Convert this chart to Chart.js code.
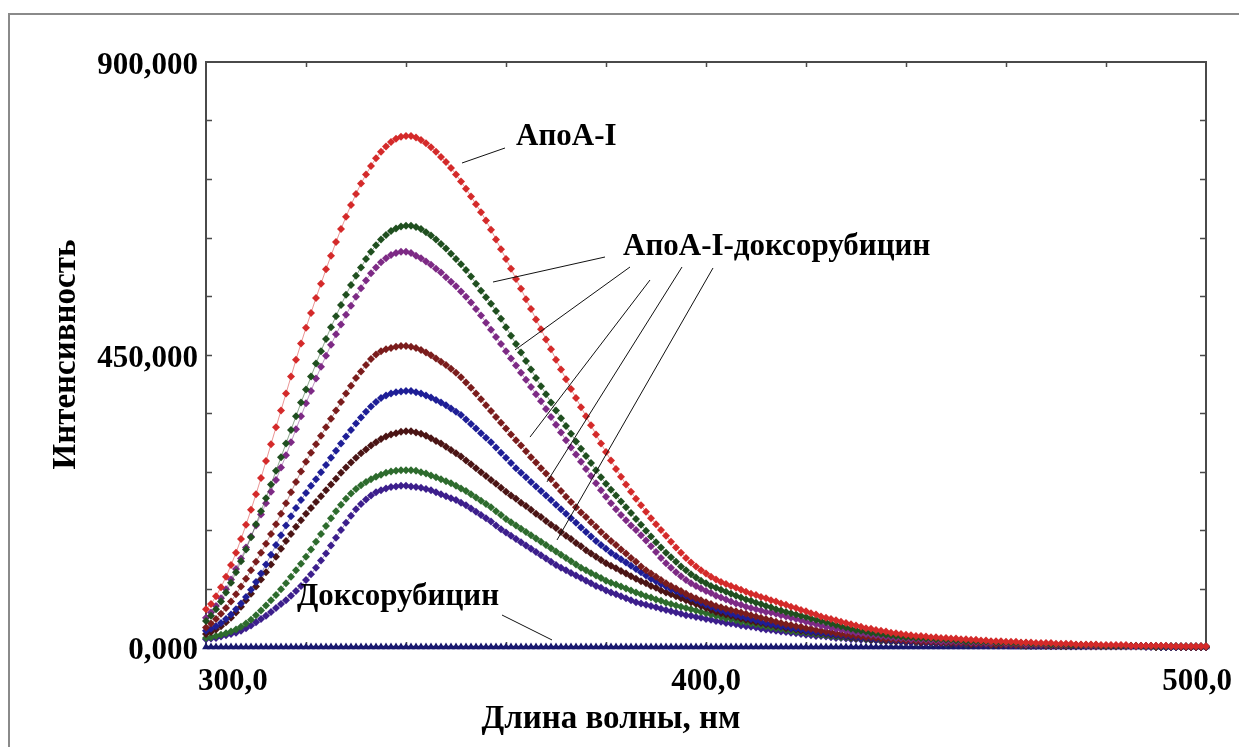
<!DOCTYPE html>
<html lang="ru">
<head>
    <meta charset="UTF-8">
    <title>Спектры флуоресценции</title>
    <style>
        body {
            margin: 0;
            padding: 0;
            background: #fff;
        }
        canvas {
            display: block;
        }
    </style>
</head>
<body>
    <canvas id="spectra" width="1239" height="747"></canvas>
    <script src="https://cdn.jsdelivr.net/npm/chart.js"></script>
    <script>
        // wavelength grid, nm
        const wavelengths = [
            300,301,302,303,304,305,306,307,308,309,310,311,312,313,314,315,316,317,318,319,
            320,321,322,323,324,325,326,327,328,329,330,331,332,333,334,335,336,337,338,339,
            340,341,342,343,344,345,346,347,348,349,350,351,352,353,354,355,356,357,358,359,
            360,361,362,363,364,365,366,367,368,369,370,371,372,373,374,375,376,377,378,379,
            380,381,382,383,384,385,386,387,388,389,390,391,392,393,394,395,396,397,398,399,
            400,401,402,403,404,405,406,407,408,409,410,411,412,413,414,415,416,417,418,419,
            420,421,422,423,424,425,426,427,428,429,430,431,432,433,434,435,436,437,438,439,
            440,441,442,443,444,445,446,447,448,449,450,451,452,453,454,455,456,457,458,459,
            460,461,462,463,464,465,466,467,468,469,470,471,472,473,474,475,476,477,478,479,
            480,481,482,483,484,485,486,487,488,489,490,491,492,493,494,495,496,497,498,499,
            500
        ];

        // intensity, one value per nm (300..500)
        const apoA1 = [
            58,66,78,92,108,126,145,166,188,211, 235,260,286,312,338,364,390,416,442,467,
            491,514,537,559,581,602,623,643,662,680, 697,713,727,740,752,762,770,777,782,785,
            786,786,784,780,775,769,762,754,746,737, 727,716,705,693,681,669,656,642,627,612,
            597,582,566,551,535,520,504,489,473,458, 442,427,412,397,383,369,355,341,327,313,
            300,287,274,262,250,239,228,218,208,198, 189,180,171,162,153,145,137,130,124,118,
            113,108,104,100,97,94,91,88,85,82, 80,77,75,72,70,67,65,62,60,57,
            55,52,50,47,45,43,41,39,37,35, 33,31,29,28,26,25,24,22,21,20,
            19,18,17,17,16,15,15,14,14,13, 13,12,12,11,11,10,10,9,9,9,
            8,8,8,7,7,7,6,6,6,6, 5,5,5,5,4,4,4,4,4,3,
            3,3,3,3,3,2,2,2,2,2, 2,2,2,1,1,1,1,1,1,1,
            1
        ];
        const complex1 = [
            40,48,58,70,84,99,115,132,150,169, 189,209,229,250,271,292,313,334,355,376,
            396,416,436,455,474,492,509,526,542,557, 571,584,597,608,618,627,634,640,644,647,
            648,648,646,643,638,633,627,620,613,605, 597,589,580,570,559,548,538,528,517,505,
            492,479,466,453,440,427,414,401,389,376, 364,352,340,328,316,305,294,283,272,261,
            251,242,233,224,215,206,197,188,179,170, 161,153,145,138,131,124,118,112,107,102,
            98,94,91,88,85,82,79,76,73,71, 68,66,63,61,58,56,54,52,50,48,
            46,44,42,40,38,36,34,32,30,28, 26,25,24,22,21,20,19,18,17,16,
            15,15,14,14,13,13,12,12,11,11, 10,10,9,9,9,8,8,8,7,7,
            7,6,6,6,6,5,5,5,5,4, 4,4,4,3,3,3,3,3,3,2,
            2,2,2,2,2,2,2,1,1,1, 1,1,1,1,1,1,1,1,1,1,
            1
        ];
        const complex2 = [
            45,53,63,75,89,104,120,136,153,170, 187,204,221,239,257,276,295,315,335,355,
            375,394,413,431,448,465,481,496,511,525, 539,552,564,575,584,592,598,603,606,608,
            608,606,602,598,593,588,582,576,569,562, 555,547,539,530,520,510,499,488,477,466,
            455,444,433,422,411,400,389,378,366,354, 342,330,318,307,296,285,274,263,252,241,
            231,221,212,203,195,187,180,172,164,155, 146,137,129,122,115,109,103,98,94,90,
            86,83,79,76,73,70,67,65,62,60, 58,56,54,53,51,49,47,45,43,41,
            39,37,35,33,31,30,28,27,25,24, 22,21,20,19,18,17,16,15,14,14,
            13,12,12,11,11,10,10,9,9,9, 8,8,8,7,7,7,6,6,6,6,
            5,5,5,5,4,4,4,4,4,3, 3,3,3,3,3,3,2,2,2,2,
            2,2,2,2,1,1,1,1,1,1, 1,1,1,1,1,1,1,1,1,1,
            1
        ];
        const complex3 = [
            30,36,43,51,60,70,81,93,105,118, 131,145,159,174,189,205,221,238,254,270,
            285,299,312,325,338,351,364,377,390,402, 414,424,434,443,450,455,458,460,462,463,
            463,462,460,457,453,449,444,439,434,428, 422,415,407,399,390,381,372,363,354,345,
            336,327,318,310,301,292,284,275,267,258, 249,240,231,223,215,207,200,192,185,177,
            170,163,157,150,144,137,131,124,118,113, 108,103,98,94,90,86,82,78,75,72,
            69,66,63,61,59,57,55,53,51,49, 47,45,43,41,39,37,35,34,32,31,
            29,28,26,25,24,23,21,20,19,18, 17,16,15,15,14,13,12,12,11,11,
            10,10,9,9,8,8,8,7,7,7, 6,6,6,5,5,5,5,4,4,4,
            4,4,3,3,3,3,3,3,2,2, 2,2,2,2,2,2,2,1,1,1,
            1,1,1,1,1,1,1,1,1,1, 1,1,1,1,1,0,0,0,0,0,
            0
        ];
        const complex4 = [
            25,28,32,37,43,50,58,67,77,88, 100,113,127,142,157,172,187,201,214,226,
            237,248,258,269,280,291,302,313,324,334, 344,353,362,370,377,383,387,390,392,393,
            394,394,392,390,387,384,380,376,372,367, 362,357,350,343,336,329,322,315,307,299,
            291,283,275,268,261,254,247,240,233,226, 219,212,205,198,191,184,177,170,163,157,
            151,145,140,135,130,125,120,115,110,105, 101,97,93,89,86,82,79,75,72,68,
            65,62,59,56,54,51,49,47,45,43, 41,39,37,35,34,32,31,29,28,27,
            25,24,23,22,21,20,19,18,17,16, 15,14,14,13,12,12,11,10,10,9,
            9,8,8,8,7,7,7,6,6,6, 5,5,5,5,4,4,4,4,4,3,
            3,3,3,3,3,2,2,2,2,2, 2,2,2,1,1,1,1,1,1,1,
            1,1,1,1,1,1,1,1,1,1, 1,0,0,0,0,0,0,0,0,0,
            0
        ];
        const complex5 = [
            20,23,27,32,38,45,53,62,72,82, 93,104,115,127,139,151,163,174,185,195,
            205,214,223,232,241,250,259,268,276,284, 291,298,304,310,315,320,324,327,329,331,
            332,332,330,328,325,321,317,313,308,303, 298,293,287,281,275,269,263,257,251,245,
            239,233,228,222,217,211,205,200,194,188, 183,177,171,166,160,155,149,144,139,134,
            129,125,121,117,113,109,105,101,98,94, 91,87,84,81,78,75,72,69,66,63,
            60,57,54,52,50,48,46,44,42,40, 38,37,35,34,32,31,29,28,27,25,
            24,23,22,21,20,19,18,17,16,15, 14,14,13,12,12,11,10,10,9,9,
            8,8,8,7,7,7,6,6,6,5, 5,5,5,4,4,4,4,4,3,3,
            3,3,3,3,2,2,2,2,2,2, 2,2,1,1,1,1,1,1,1,1,
            1,1,1,1,1,1,1,1,1,1, 0,0,0,0,0,0,0,0,0,0,
            0
        ];
        const complex6 = [
            14,15,17,19,21,24,27,31,36,42, 49,56,64,72,80,89,98,108,118,128,
            139,150,162,174,186,198,209,219,228,236, 243,249,254,258,262,265,268,270,271,272,
            272,272,271,269,267,264,261,258,255,252, 248,244,240,235,230,225,220,215,209,203,
            197,192,187,182,177,172,167,162,157,152, 147,142,137,132,127,122,118,114,110,106,
            102,99,96,93,90,87,84,81,78,76, 73,71,68,66,64,62,60,58,56,54,
            52,50,48,46,44,43,41,39,38,36, 35,33,32,30,29,28,26,25,24,23,
            22,21,20,19,18,17,16,15,15,14, 13,13,12,11,11,10,10,9,9,8,
            8,8,7,7,7,6,6,6,5,5, 5,5,4,4,4,4,4,3,3,3,
            3,3,3,2,2,2,2,2,2,2, 2,1,1,1,1,1,1,1,1,1,
            1,1,1,1,1,1,1,1,1,1, 0,0,0,0,0,0,0,0,0,0,
            0
        ];
        const complex7 = [
            12,13,14,16,18,20,22,25,29,33, 38,43,48,54,60,66,72,79,86,94,
            103,112,122,133,144,156,168,180,191,202, 212,220,227,233,238,241,244,246,247,248,
            248,247,246,245,243,241,238,235,232,229, 226,222,218,213,208,203,198,193,187,181,
            176,171,166,161,156,151,146,141,136,131, 126,122,118,114,110,106,102,98,94,91,
            87,84,81,78,75,72,69,67,65,63, 61,59,57,55,53,51,49,48,46,45,
            43,42,40,39,37,36,35,33,32,31, 30,28,27,26,25,24,23,22,21,20,
            19,18,17,17,16,15,14,14,13,12, 12,11,11,10,10,9,9,8,8,8,
            7,7,7,6,6,6,5,5,5,5, 4,4,4,4,4,3,3,3,3,3,
            3,2,2,2,2,2,2,2,2,1, 1,1,1,1,1,1,1,1,1,1,
            1,1,1,1,1,1,1,1,0,0, 0,0,0,0,0,0,0,0,0,0,
            0
        ];
        const doxorubicin = [
            0,0,0,0,0,0,0,0,0,0, 0,0,0,0,0,0,0,0,0,0,
            0,0,0,0,0,0,0,0,0,0, 0,0,0,0,0,0,0,0,0,0,
            0,0,0,0,0,0,0,0,0,0, 0,0,0,0,0,0,0,0,0,0,
            0,0,0,0,0,0,0,0,0,0, 0,0,0,0,0,0,0,0,0,0,
            0,0,0,0,0,0,0,0,0,0, 0,0,0,0,0,0,0,0,0,0,
            0,0,0,0,0,0,0,0,0,0, 0,0,0,0,0,0,0,0,0,0,
            0,0,0,0,0,0,0,0,0,0, 0,0,0,0,0,0,0,0,0,0,
            0,0,0,0,0,0,0,0,0,0, 0,0,0,0,0,0,0,0,0,0,
            0,0,0,0,0,0,0,0,0,0, 0,0,0,0,0,0,0,0,0,0,
            0,0,0,0,0,0,0,0,0,0, 0,0,0,0,0,0,0,0,0,0,
            0
        ];

        const xLabelTicks = [300, 400, 500];
        const yLabelTicks = [0, 450, 900];
        const xMinorTicks = [320, 340, 360, 380, 400, 420, 440, 460, 480];
        const yMinorTicks = [90, 180, 270, 360, 450, 540, 630, 720, 810];

        const serif = '"Liberation Serif", "Times New Roman", serif';

        const series = [
            { data: apoA1, color: '#d42a2a', marker: 'rectRot' },
            { data: complex1, color: '#1f4f1f', marker: 'rectRot' },
            { data: complex2, color: '#7d2a85', marker: 'rectRot' },
            { data: complex3, color: '#7a1c1c', marker: 'rectRot' },
            { data: complex4, color: '#1e1e96', marker: 'rectRot' },
            { data: complex5, color: '#4a1414', marker: 'rectRot' },
            { data: complex6, color: '#2d6b2d', marker: 'rectRot' },
            { data: complex7, color: '#3c1e8c', marker: 'rectRot' },
            { data: doxorubicin, color: '#18186e', marker: 'triangle' }
        ];

        // callouts, anchored in data units (nm, intensity)
        const callouts = [
            { text: 'АпоА-I', at: [362, 785], lines: [[[359.8, 767.7], [351.2, 744.6]]] },
            { text: 'АпоА-I-доксорубицин', at: [383.4, 615], lines: [
                [[379.8, 600], [357.4, 561.5]],
                [[384.8, 584.6], [361.8, 457]],
                [[388.8, 564.6], [364.8, 323]],
                [[395.2, 584.6], [368.2, 254]],
                [[401.4, 583.1], [370.2, 164.6]]
            ] },
            { text: 'Доксорубицин', at: [318.2, 77], lines: [[[359.2, 49.2], [369.2, 10.8]]] }
        ];

        const comma = (v, digits) => v.toFixed(digits).replace('.', ',');

        const framePlugin = {
            id: 'frame',
            beforeDraw(chart) {
                const ctx = chart.ctx;
                ctx.save();
                ctx.fillStyle = '#fff';
                ctx.fillRect(0, 0, chart.width, chart.height);
                // outer picture border
                ctx.strokeStyle = '#8a8a8a';
                ctx.lineWidth = 2;
                ctx.beginPath();
                ctx.moveTo(9, chart.height);
                ctx.lineTo(9, 14);
                ctx.lineTo(chart.width, 14);
                ctx.stroke();
                ctx.restore();

                // end labels of the x axis sit inward of their ticks in the original
                const items = chart.scales.x.getLabelItems();
                const first = items[0].options, last = items[items.length - 1].options;
                first.textAlign = 'left';
                first.translation[0] -= 8;
                last.textAlign = 'right';
                last.translation[0] += 26;
            },
            beforeDatasetsDraw(chart) {
                const { ctx, chartArea: a, scales: { x, y } } = chart;
                ctx.save();
                ctx.strokeStyle = '#4a4a4a';
                ctx.lineWidth = 2;
                ctx.strokeRect(a.left, a.top, a.right - a.left, a.bottom - a.top);
                ctx.lineWidth = 1.5;
                ctx.beginPath();
                yMinorTicks.forEach(v => {
                    const py = Math.round(y.getPixelForValue(v)) + 0.5;
                    ctx.moveTo(a.left, py); ctx.lineTo(a.left + 6, py);
                    ctx.moveTo(a.right, py); ctx.lineTo(a.right - 6, py);
                });
                xMinorTicks.forEach(v => {
                    const px = Math.round(x.getPixelForValue(v)) + 0.5;
                    ctx.moveTo(px, a.top); ctx.lineTo(px, a.top + 5);
                    ctx.moveTo(px, a.bottom); ctx.lineTo(px, a.bottom - 5);
                });
                ctx.stroke();
                ctx.restore();
            },
            afterDraw(chart) {
                const { ctx, chartArea: a, scales: { x, y } } = chart;
                ctx.save();
                ctx.fillStyle = '#000';
                ctx.strokeStyle = '#111';
                ctx.lineWidth = 1;
                ctx.font = 'bold 31px ' + serif;
                ctx.textBaseline = 'middle';
                ctx.textAlign = 'left';
                callouts.forEach(c => {
                    ctx.fillText(c.text, x.getPixelForValue(c.at[0]), y.getPixelForValue(c.at[1]));
                    c.lines.forEach(([p, q]) => {
                        ctx.beginPath();
                        ctx.moveTo(x.getPixelForValue(p[0]), y.getPixelForValue(p[1]));
                        ctx.lineTo(x.getPixelForValue(q[0]), y.getPixelForValue(q[1]));
                        ctx.stroke();
                    });
                });
                // x axis title sits left of centre in the original
                ctx.font = 'bold 33px ' + serif;
                ctx.textAlign = 'center';
                ctx.fillText('Длина волны, нм', x.getPixelForValue(381), a.bottom + 72);
                ctx.restore();
            }
        };

        const ctx = document.getElementById('spectra').getContext('2d');
        new Chart(ctx, {
            type: 'line',
            data: {
                labels: wavelengths,
                datasets: series.map(s => ({
                    data: s.data.map((v, i) => ({ x: wavelengths[i], y: v })),
                    borderColor: s.color,
                    backgroundColor: s.color,
                    borderWidth: s.marker === 'triangle' ? 2.5 : 0.5,
                    pointStyle: s.marker,
                    pointRadius: s.marker === 'triangle' ? 4.5 : 4,
                    pointBorderWidth: 0,
                    tension: 0,
                    clip: 5
                }))
            },
            options: {
                responsive: false,
                animation: false,
                devicePixelRatio: 1,
                layout: { padding: { top: 62, right: 33, left: 0, bottom: 0 } },
                plugins: {
                    legend: { display: false },
                    tooltip: { enabled: false }
                },
                scales: {
                    x: {
                        type: 'linear',
                        min: 300,
                        max: 500,
                        afterFit: s => {
                            s.height = 100;
                            s.paddingLeft = 0;
                            s.paddingRight = 0;
                        },
                        afterBuildTicks: s => { s.ticks = xLabelTicks.map(v => ({ value: v })); },
                        grid: { display: false },
                        border: { display: false },
                        ticks: {
                            color: '#000',
                            padding: 8,
                            maxRotation: 0,
                            font: { family: serif, size: 31, weight: 'bold' },
                            callback: v => comma(v, 1)
                        }
                    },
                    y: {
                        min: 0,
                        max: 900,
                        afterFit: s => {
                            s.width = 206;
                            s.paddingTop = 0;
                            s.paddingBottom = 0;
                        },
                        afterBuildTicks: s => { s.ticks = yLabelTicks.map(v => ({ value: v })); },
                        grid: { display: false },
                        border: { display: false },
                        ticks: {
                            color: '#000',
                            padding: 0,
                            labelOffset: 4,
                            font: { family: serif, size: 31, weight: 'bold' },
                            callback: v => comma(v, 3)
                        },
                        title: {
                            display: true,
                            text: 'Интенсивность',
                            color: '#000',
                            padding: { top: 47, bottom: 0 },
                            font: { family: serif, size: 33, weight: 'bold' }
                        }
                    }
                }
            },
            plugins: [framePlugin]
        });
    </script>
</body>
</html>
